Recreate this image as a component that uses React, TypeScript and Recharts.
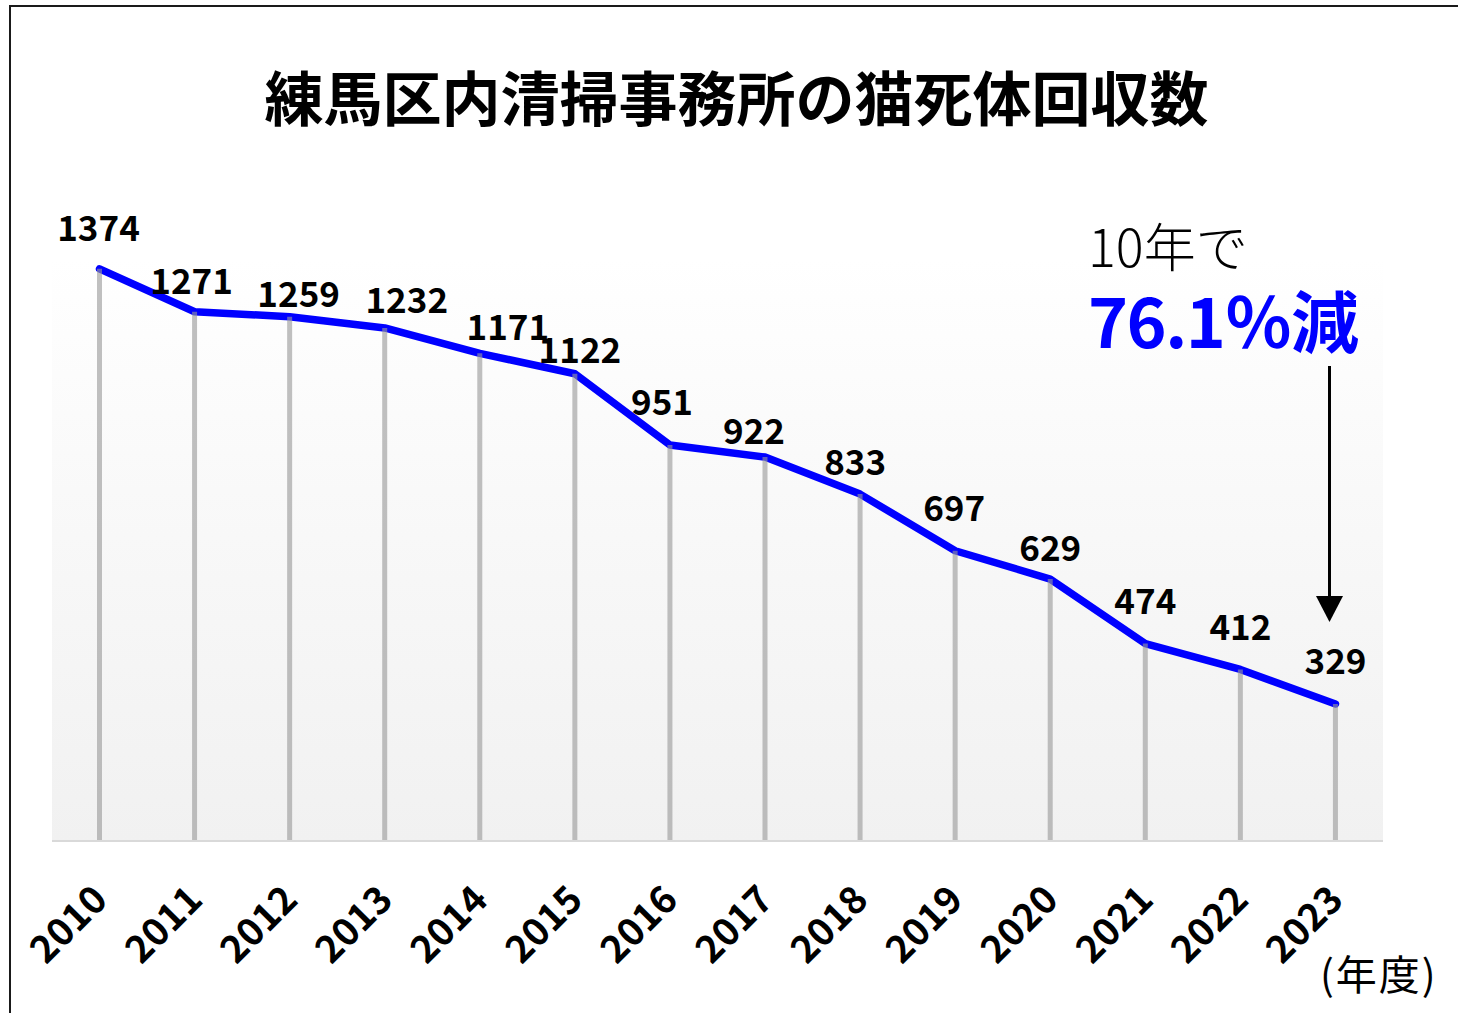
import React from 'react';
import { ComposedChart, Line, Bar, XAxis, YAxis, LabelList } from 'recharts';

const years = ['2010', '2011', '2012', '2013', '2014', '2015', '2016', '2017', '2018', '2019', '2020', '2021', '2022', '2023'];
const counts = [1374, 1271, 1259, 1232, 1171, 1122, 951, 922, 833, 697, 629, 474, 412, 329];
const yDomain: [number, number] = [0, 1400];

// label nudges (layout only): offset of label centre from its point
const labelNudge: [number, number][] = [
  [-1, -41], [-3, -31], [9, -23], [22, -28], [28, -26], [5, -24], [-8, -43],
  [-11, -26], [-5, -32], [-1, -43], [0, -31], [0, -43], [0, -42], [0, -43],
];

const data = years.map((year, i) => ({ year, count: counts[i] }));

const FONT = '"Noto Sans CJK JP", "Noto Sans", sans-serif';

const YearTick = (props: any) => {
  const { x, y, payload } = props;
  const ax = x + 10;
  const ay = y + 61;
  return (
    <text
      x={ax}
      y={ay}
      transform={`rotate(-45 ${ax} ${ay})`}
      textAnchor="end"
      fontFamily={FONT}
      fontWeight={700}
      fontSize={38}
      fill="#000"
    >
      {payload.value}
    </text>
  );
};

const PointLabel = (props: any) => {
  const { x, y, value, index } = props;
  const [dx, dy] = labelNudge[index] || [0, -36];
  return (
    <text
      x={x + dx}
      y={y + dy + 13}
      textAnchor="middle"
      fontFamily={FONT}
      fontWeight={700}
      fontSize={35}
      fill="#000"
    >
      {value}
    </text>
  );
};

export default function App() {
  return (
    <div
      style={{
        position: 'absolute',
        left: 0,
        top: 0,
        width: 1458,
        height: 1013,
        overflow: 'hidden',
        background: '#fff',
      }}
    >
      <div
        style={{
          position: 'absolute',
          left: 9,
          top: 5,
          width: 1500,
          height: 1100,
          border: '2px solid #1a1a1a',
          boxSizing: 'border-box',
        }}
      />
      <div
        style={{
          position: 'absolute',
          left: 52,
          top: 258,
          width: 1331,
          height: 583,
          background: 'linear-gradient(to bottom, #ffffff 0%, #f9f9f9 40%, #f1f1f1 100%)',
        }}
      />
      <div style={{ position: 'absolute', left: 0, top: 0 }}>
        <ComposedChart
          width={1458}
          height={1013}
          data={data}
          margin={{ top: 258, right: 75, bottom: 52, left: 52 }}
        >
          <XAxis
            dataKey="year"
            type="category"
            height={120}
            axisLine={{ stroke: '#d9d9d9', strokeWidth: 2 }}
            tickLine={false}
            tickSize={0}
            tickMargin={0}
            interval={0}
            tick={<YearTick />}
          />
          <YAxis hide domain={yDomain} type="number" />
          <Line
            type="linear"
            dataKey="count"
            stroke="#0000ff"
            strokeWidth={7.5}
            strokeLinecap="round"
            strokeLinejoin="round"
            dot={false}
            activeDot={false}
            isAnimationActive={false}
          >
            <LabelList dataKey="count" content={<PointLabel />} />
          </Line>
          <Bar
            dataKey="count"
            barSize={5}
            fill="#9a9a9a"
            fillOpacity={0.62}
            isAnimationActive={false}
            zIndex={450}
          />
        </ComposedChart>
      </div>
      <svg
        width={1458}
        height={1013}
        style={{ position: 'absolute', left: 0, top: 0, pointerEvents: 'none' }}
      >
        <text
          x={736.5}
          y={121}
          textAnchor="middle"
          fontFamily={FONT}
          fontWeight={700}
          fontSize={59}
          fill="#000"
        >
          練馬区内清掃事務所の猫死体回収数
        </text>
        <text x={1088} y={267} fontFamily={FONT} fontWeight={300} fontSize={52} fill="#000">
          10年で
        </text>
        <text
          x={1088}
          y={348}
          fontFamily={FONT}
          fontWeight={700}
          fontSize={68}
          letterSpacing={-1.5}
          fill="#0000ff"
        >
          76.1％減
        </text>
        <line x1={1329.5} y1={366} x2={1329.5} y2={600} stroke="#000" strokeWidth={3} />
        <polygon points="1316,596 1343,596 1329.5,622" fill="#000" />
        <text
          x={1320}
          y={990}
          fontFamily={FONT}
          fontWeight={400}
          fontSize={41}
          letterSpacing={2}
          fill="#000"
        >
          (年度)
        </text>
      </svg>
    </div>
  );
}
